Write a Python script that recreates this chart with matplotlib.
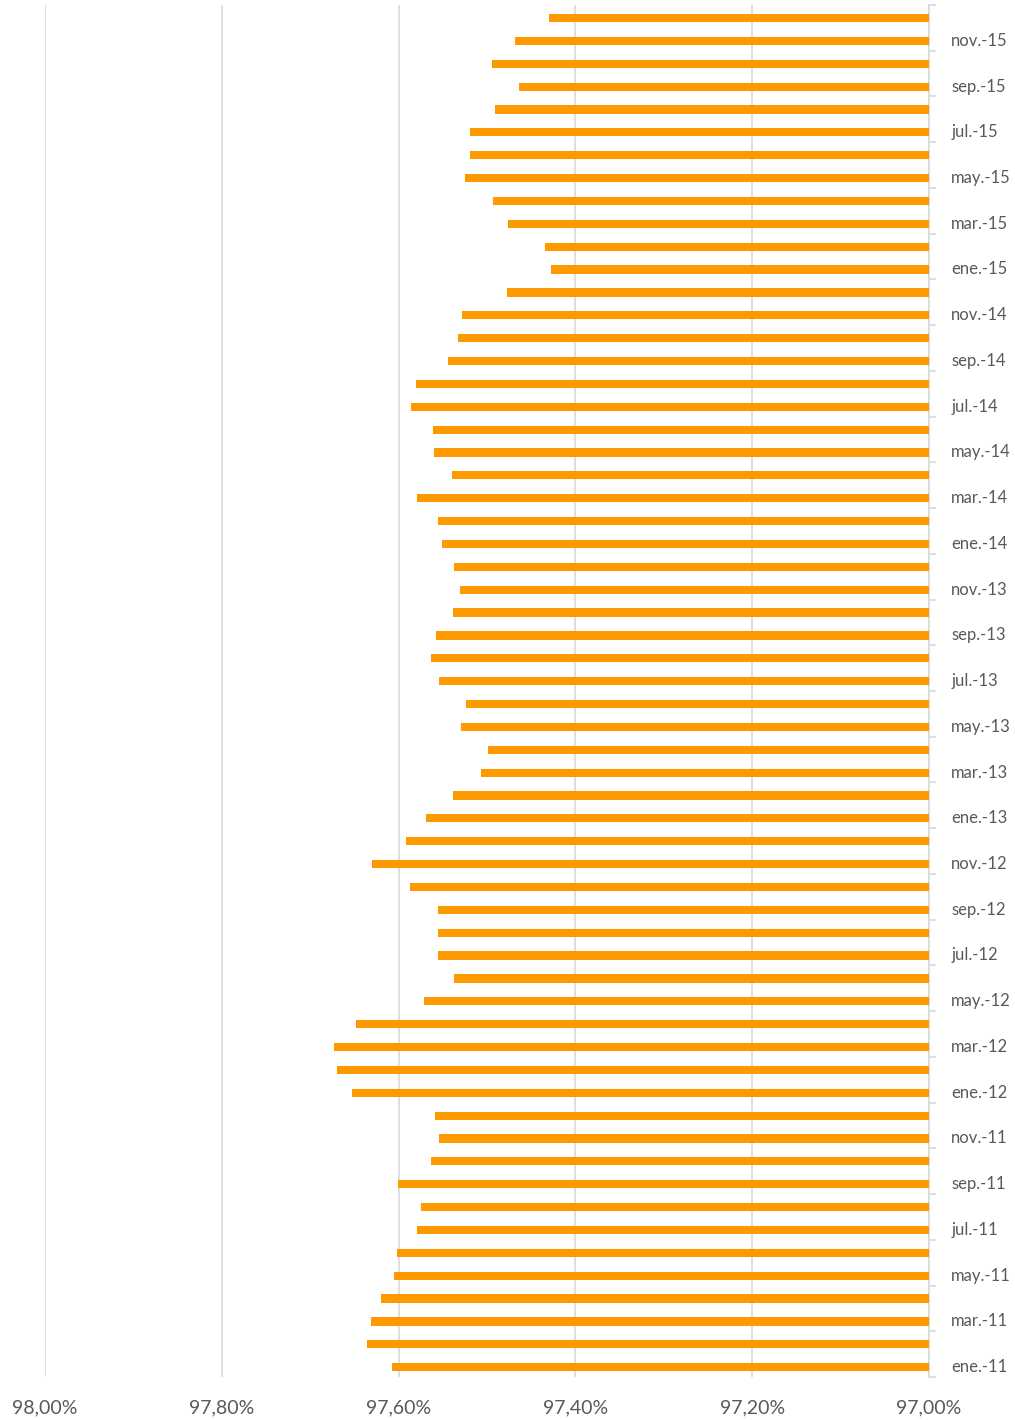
import matplotlib
matplotlib.use("Agg")
import matplotlib.pyplot as plt
import numpy as np

plt.rcParams['font.family'] = ['Lato', 'DejaVu Sans']

months_es = ["ene.", "feb.", "mar.", "abr.", "may.", "jun.", "jul.", "ago.", "sep.", "oct.", "nov.", "dic."]
years = ["11", "12", "13", "14", "15"]
categories = [f"{m}-{y}" for y in years for m in months_es]

# values in percent, ene.-11 ... dic.-15
values = [
    97.607, 97.636, 97.631, 97.620, 97.605, 97.602, 97.579, 97.575, 97.601, 97.563, 97.554, 97.559,  # 2011
    97.653, 97.670, 97.673, 97.648, 97.571, 97.537, 97.555, 97.555, 97.555, 97.587, 97.630, 97.592,  # 2012
    97.569, 97.538, 97.507, 97.499, 97.529, 97.524, 97.554, 97.563, 97.558, 97.538, 97.531, 97.537,  # 2013
    97.551, 97.555, 97.579, 97.540, 97.560, 97.561, 97.586, 97.580, 97.544, 97.533, 97.528, 97.477,  # 2014
    97.428, 97.434, 97.476, 97.493, 97.525, 97.519, 97.519, 97.491, 97.464, 97.494, 97.468, 97.430,  # 2015
]
xticks = [98.0, 97.8, 97.6, 97.4, 97.2, 97.0]
xtick_labels = ["98,00%", "97,80%", "97,60%", "97,40%", "97,20%", "97,00%"]

bar_color = "#FF9900"
text_color = "#595959"
grid_color = "#D9D9D9"

fig = plt.figure(figsize=(10.15, 14.2), dpi=100)
ax = fig.add_axes([45/1015, 1 - 1377/1420, (929 - 45)/1015, (1377 - 5)/1420])

y = np.arange(len(categories))
base = 97.0
ax.barh(y - 0.07, np.array(values) - base, left=base, height=0.36, color=bar_color, zorder=3)

ax.set_xlim(98.0, 97.0)
ax.set_ylim(-0.5, len(categories) - 0.5)

ax.set_xticks(xticks)
ax.set_xticklabels(xtick_labels, fontsize=14, color=text_color)
ax.tick_params(axis='x', length=0, pad=16)
ax.grid(axis='x', color=grid_color, linewidth=1.2, zorder=0)

ax.yaxis.tick_right()
ax.set_yticks(y[::2])
ax.set_yticklabels(categories[::2], fontsize=12, color=text_color)
ax.set_yticks(np.arange(-0.5, len(categories), 2), minor=True)
ax.tick_params(axis='y', which='major', length=0, pad=16)
ax.tick_params(axis='y', which='minor', length=5, color=grid_color, width=1.2)

for side in ['top', 'left', 'bottom']:
    ax.spines[side].set_visible(False)
ax.spines['right'].set_color(grid_color)
ax.spines['right'].set_linewidth(1.2)

fig.savefig("out.png", dpi=100)
